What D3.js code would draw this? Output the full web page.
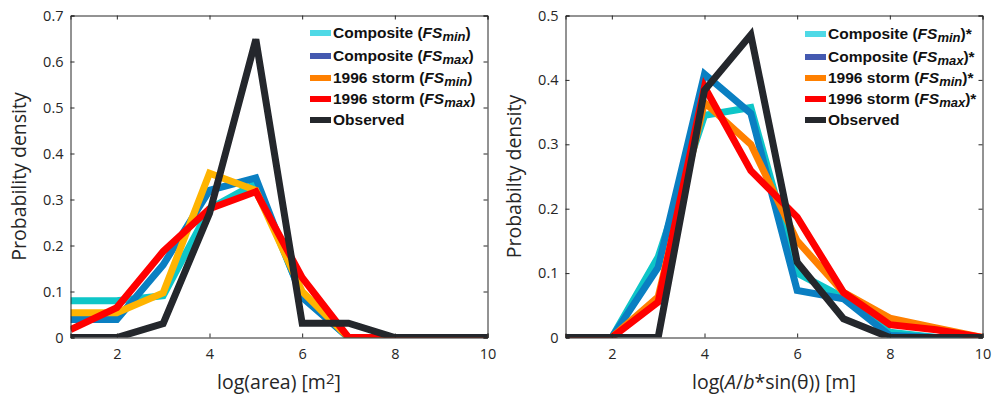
<!DOCTYPE html>
<html><head><meta charset="utf-8">
<script src="https://cdn.jsdelivr.net/npm/d3@7"></script>
<style>
body{margin:0;background:#fff;}
svg{display:block;}
.tick text{font-family:"Open Sans","Noto Sans",sans-serif;font-size:14.5px;fill:#262626;}
</style></head>
<body><svg id="c" width="1002" height="396"></svg>
<script>
// ---- data ----
const xs = [1,2,3,4,5,6,7,8,9,10];
const xTicks = [2,4,6,8,10];
const leftYTicks = [0,0.1,0.2,0.3,0.4,0.5,0.6,0.7];
const rightYTicks = [0,0.1,0.2,0.3,0.4,0.5];
const seriesNames = ["Composite", "Composite", "1996 storm", "1996 storm", "Observed"];
const seriesSubs = ["min","max","min","max",null];

const leftCompMin  = [0.080,0.080,0.091,0.280,0.335,0.090,0,0,0,0];
const leftCompMax  = [0.039,0.039,0.158,0.320,0.347,0.087,0,0,0,0];
const left96Min    = [0.054,0.054,0.097,0.357,0.320,0.100,0,0,0,0];
const left96Max    = [0.017,0.065,0.187,0.280,0.317,0.130,0,0,0,0];
const leftObs      = [0,0,0.030,0.270,0.648,0.031,0.031,0,0,0];

const rightCompMin = [0,0,0.125,0.345,0.357,0.100,0.062,0.008,0,0];
const rightCompMax = [0,0,0.109,0.409,0.348,0.073,0.060,0.003,0,0];
const right96Min   = [0,0,0.063,0.365,0.300,0.150,0.070,0.030,0.015,0];
const right96Max   = [0,0,0.055,0.389,0.259,0.187,0.070,0.020,0.012,0];
const rightObs     = [0,0,0,0.384,0.470,0.117,0.029,0,0,0];

// ---- styles ----
const leftLineColors  = ["#0ec6c8","#0a7fc2","#ffb400","#ff0000","#24272c"];
const rightLineColors = ["#0ec6c8","#0a7fc2","#ff8000","#ff0000","#24272c"];
const legendColors    = ["#4fd9e6","#4459b0","#ff8000","#ff0000","#24272c"];

const svg = d3.select("#c");

function panel(cfg){
  const {left,right,top,bottom,ymax,yTicks,series,colors,id,ylabel,xlabelFn,legX,legRows,star} = cfg;
  const x = d3.scaleLinear().domain([1,10]).range([left,right]);
  const y = d3.scaleLinear().domain([0,ymax]).range([bottom,top]);
  const g = svg.append("g");
  g.append("defs").append("clipPath").attr("id",id).append("rect")
    .attr("x",left).attr("y",top).attr("width",right-left).attr("height",bottom-top);
  const line = d3.line().x((d,i)=>x(xs[i])).y(d=>y(d));
  const lg = g.append("g").attr("clip-path",`url(#${id})`);
  series.forEach((s,i)=>{
    lg.append("path").attr("d",line(s)).attr("fill","none")
      .attr("stroke",colors[i]).attr("stroke-width",7).attr("stroke-linejoin","miter").attr("stroke-miterlimit",4);
  });
  // axes
  const axCol = "#262626";
  const bx = g.append("g").attr("transform",`translate(0,${bottom})`)
    .call(d3.axisBottom(x).tickValues(xTicks).tickSize(-4).tickPadding(9).tickFormat(d3.format("d")));
  const tx = g.append("g").attr("transform",`translate(0,${top})`)
    .call(d3.axisTop(x).tickValues(xTicks).tickSize(-4).tickFormat(""));
  const ly = g.append("g").attr("transform",`translate(${left},0)`)
    .call(d3.axisLeft(y).tickValues(yTicks).tickSize(-4).tickPadding(7).tickFormat(d=>d===0?"0":d3.format(".1f")(d)));
  const ry = g.append("g").attr("transform",`translate(${right},0)`)
    .call(d3.axisRight(y).tickValues(yTicks).tickSize(-4).tickFormat(""));
  [bx,tx,ly,ry].forEach(a=>{
    a.select(".domain").attr("stroke",axCol).attr("stroke-width",1);
    a.selectAll(".tick line").attr("stroke",axCol);
  });
  bx.selectAll(".tick text").attr("dy","0.85em");
  // y label
  g.append("text").attr("transform",`translate(${left-45},${(top+bottom)/2}) rotate(-90)`)
    .attr("text-anchor","middle").attr("font-family","'Open Sans','Noto Sans',sans-serif")
    .attr("font-size",19.5).attr("fill","#262626").text(ylabel);
  // x label
  const xl = g.append("text").attr("x",(left+right)/2).attr("y",389)
    .attr("text-anchor","middle").attr("font-family","'Open Sans','Noto Sans',sans-serif")
    .attr("font-size",19.5).attr("fill","#262626");
  xlabelFn(xl);
  // legend
  seriesNames.forEach((n,i)=>{
    const cy = legRows[i];
    g.append("rect").attr("x",legX).attr("y",cy-3).attr("width",21).attr("height",6).attr("fill",legendColors[i]);
    const t = g.append("text").attr("x",legX+23).attr("y",cy+5)
      .attr("font-family","'Liberation Sans',Arial,sans-serif").attr("font-weight","bold")
      .attr("font-size",15.5).attr("fill","#111");
    if(seriesSubs[i]){
      t.append("tspan").text(n+" (");
      t.append("tspan").attr("font-style","italic").text("FS");
      t.append("tspan").attr("font-style","italic").attr("font-size",13).attr("dy",3).text(seriesSubs[i]);
      t.append("tspan").attr("dy",-3).text(")"+(star?"*":""));
    } else {
      t.text(n);
    }
  });
}

panel({left:70.5,right:487.5,top:15.5,bottom:337.5,ymax:0.7,yTicks:leftYTicks,
  series:[leftCompMin,leftCompMax,left96Min,left96Max,leftObs],colors:leftLineColors,id:"cl",
  ylabel:"Probability density",
  xlabelFn:t=>{t.append("tspan").text("log(area) [m");t.append("tspan").attr("dy",-5).attr("font-size",15).text("2");t.append("tspan").attr("dy",5).text("]");},
  legX:310,legRows:[33,56,78,99,120],star:false});

panel({left:565.5,right:982.5,top:15.5,bottom:337.5,ymax:0.5,yTicks:rightYTicks,
  series:[rightCompMin,rightCompMax,right96Min,right96Max,rightObs],colors:rightLineColors,id:"cr",
  ylabel:"Probabilty density",
  xlabelFn:t=>{t.append("tspan").text("log(");t.append("tspan").attr("font-style","italic").text("A");
    t.append("tspan").text("/");t.append("tspan").attr("font-style","italic").text("b");
    t.append("tspan").text("*sin(θ)) [m]");},
  legX:805,legRows:[34,57,78,99,120],star:true});
</script></body></html>
